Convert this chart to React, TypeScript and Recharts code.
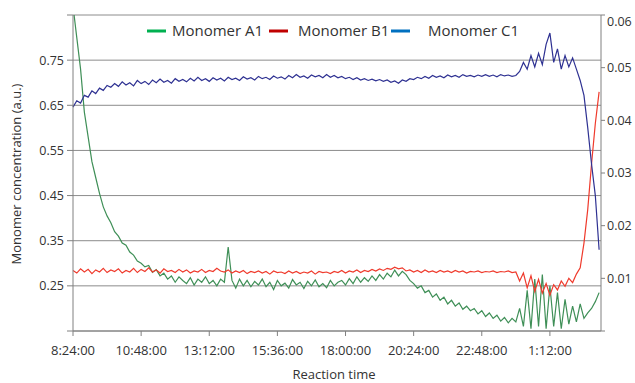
import React from "react";
import { LineChart, Line, XAxis, YAxis, CartesianGrid } from "recharts";

// minutes after 8:24:00
const times = [
  0, 8, 16, 24, 32, 40, 48, 56, 64, 72,
  80, 88, 96, 104, 112, 120, 128, 136, 144, 152,
  160, 168, 176, 184, 192, 200, 208, 216, 224, 232,
  240, 248, 256, 264, 272, 280, 288, 296, 304, 312,
  320, 328, 336, 344, 352, 360, 368, 376, 384, 392,
  400, 408, 416, 424, 432, 440, 448, 456, 464, 472,
  480, 488, 496, 504, 512, 520, 528, 536, 544, 552,
  560, 568, 576, 584, 592, 600, 608, 616, 624, 632,
  640, 648, 656, 664, 672, 680, 688, 696, 704, 712,
  720, 728, 736, 744, 752, 760, 768, 776, 784, 792,
  800, 808, 816, 824, 832, 840, 848, 856, 864, 872,
  880, 888, 896, 904, 912, 920, 928, 936, 944, 952,
  960, 968, 976, 984, 992, 1000, 1008, 1016, 1024, 1032,
  1040, 1048, 1056, 1064, 1072, 1080, 1088, 1096, 1104, 1112,
];

// left axis
const monomerA1 = [
  0.87, 0.8, 0.73, 0.635, 0.58, 0.525, 0.49, 0.455, 0.425, 0.405,
  0.39, 0.37, 0.36, 0.345, 0.34, 0.325, 0.318, 0.305, 0.3, 0.292,
  0.295, 0.28, 0.286, 0.272, 0.278, 0.265, 0.272, 0.258, 0.27, 0.262,
  0.255, 0.268, 0.252, 0.265, 0.258, 0.27, 0.255, 0.262, 0.25, 0.265,
  0.258, 0.336, 0.262, 0.245, 0.265, 0.25, 0.262, 0.248, 0.26, 0.252,
  0.265, 0.248, 0.258, 0.242, 0.262, 0.25, 0.256, 0.245, 0.264, 0.252,
  0.258, 0.244, 0.26, 0.25, 0.263, 0.248, 0.255, 0.246, 0.262, 0.25,
  0.258, 0.262, 0.252, 0.266, 0.255, 0.27, 0.258, 0.268, 0.26, 0.272,
  0.262, 0.275, 0.265, 0.278, 0.27, 0.285, 0.272, 0.282, 0.275, 0.262,
  0.255, 0.245, 0.25, 0.235, 0.24, 0.225, 0.232, 0.218, 0.225, 0.21,
  0.218, 0.205, 0.212, 0.198, 0.205, 0.195, 0.2, 0.188, 0.195, 0.182,
  0.19, 0.178, 0.185, 0.172, 0.18, 0.168, 0.178, 0.17, 0.2, 0.16,
  0.24, 0.155, 0.265, 0.16, 0.275, 0.155, 0.25, 0.16, 0.235, 0.155,
  0.22, 0.165, 0.205, 0.17, 0.21, 0.178, 0.19, 0.2, 0.215, 0.235,
];

// right axis
const monomerB1 = [
  0.0115, 0.011, 0.0118, 0.0112, 0.0117, 0.0109, 0.0116, 0.0112, 0.0119, 0.0111,
  0.0116, 0.0113, 0.0118, 0.011, 0.0115, 0.0112, 0.0119, 0.0111, 0.0117, 0.0113,
  0.012, 0.0112, 0.0116, 0.011, 0.0118, 0.0113, 0.0115, 0.0111, 0.0117, 0.0112,
  0.0116, 0.011, 0.0114, 0.0112, 0.0117, 0.0111, 0.0115, 0.0113, 0.0119, 0.0114,
  0.0112, 0.0116, 0.011, 0.0114, 0.0111, 0.0115, 0.0109, 0.0113, 0.0111, 0.0114,
  0.011, 0.0113, 0.0108, 0.0114, 0.0111, 0.0112, 0.0109, 0.0114, 0.011, 0.0113,
  0.0109, 0.0112, 0.011, 0.0114, 0.0108, 0.0113, 0.0111, 0.0112, 0.0109, 0.0113,
  0.0111, 0.0115, 0.011, 0.0114, 0.0112, 0.0116, 0.0111, 0.0115, 0.0113, 0.0117,
  0.0114, 0.0118, 0.0115, 0.0119, 0.0117, 0.0121, 0.0118, 0.012, 0.0114, 0.0116,
  0.0112, 0.0115, 0.0111, 0.0116, 0.0112, 0.0114, 0.0111, 0.0115, 0.0112, 0.0114,
  0.0111, 0.0115, 0.0112, 0.0114, 0.011, 0.0113, 0.0112, 0.0114, 0.0111, 0.0113,
  0.0112, 0.0114, 0.0111, 0.0113, 0.0112, 0.0114, 0.0111, 0.0112, 0.0095, 0.011,
  0.0082, 0.0105, 0.0075, 0.0098, 0.0072, 0.009, 0.0068, 0.0088, 0.0078, 0.0095,
  0.0085, 0.01, 0.0092, 0.0108, 0.012, 0.0167, 0.0231, 0.0317, 0.0394, 0.0454,
];

// left axis
const monomerC1 = [
  0.646, 0.66, 0.655, 0.672, 0.668, 0.682, 0.676, 0.688, 0.683, 0.694,
  0.69, 0.698, 0.692, 0.702, 0.695, 0.7, 0.693, 0.705, 0.698, 0.703,
  0.696, 0.706, 0.7, 0.708, 0.701, 0.705, 0.699, 0.709, 0.703, 0.707,
  0.702, 0.71, 0.704, 0.712, 0.705, 0.709, 0.703, 0.711, 0.706, 0.71,
  0.704, 0.712, 0.707, 0.71, 0.705, 0.713, 0.708, 0.711, 0.706, 0.714,
  0.709, 0.712, 0.707, 0.715, 0.71, 0.713, 0.708, 0.716, 0.711, 0.718,
  0.712, 0.715, 0.71, 0.717, 0.713, 0.716, 0.711, 0.718, 0.712, 0.716,
  0.711, 0.714, 0.709, 0.712, 0.707, 0.711, 0.706, 0.709, 0.705, 0.708,
  0.704, 0.707, 0.703, 0.706, 0.701, 0.704, 0.699, 0.706, 0.703, 0.709,
  0.707, 0.712, 0.709, 0.714, 0.71, 0.716, 0.712, 0.715, 0.711, 0.717,
  0.713, 0.716, 0.712, 0.718, 0.714, 0.716, 0.713, 0.717, 0.714, 0.718,
  0.714, 0.717, 0.713, 0.718, 0.715, 0.717, 0.714, 0.716, 0.725, 0.745,
  0.73, 0.76, 0.735, 0.765, 0.74, 0.785, 0.81, 0.745, 0.775, 0.73,
  0.76, 0.735, 0.755, 0.73, 0.705, 0.672, 0.6, 0.52, 0.45, 0.33,
];

const xTicks = [0, 144, 288, 432, 576, 720, 864, 1008];
const leftTicks = [0.15, 0.25, 0.35, 0.45, 0.55, 0.65, 0.75, 0.85];
const rightTicks = [0, 0.01, 0.02, 0.03, 0.04, 0.05, 0.06];

const legendItems = [
  { name: "Monomer A1", color: "#00b050", lineX: 147, textX: 172 },
  { name: "Monomer B1", color: "#c00000", lineX: 269, textX: 298 },
  { name: "Monomer C1", color: "#0070c0", lineX: 391, textX: 428 },
];

const data = times.map((t, i) => ({
  t,
  a1: monomerA1[i],
  b1: monomerB1[i],
  c1: monomerC1[i],
}));

const FONT = "'Open Sans', sans-serif";
const TEXT = "#333";

function fmtTime(m: number) {
  const total = 8 * 60 + 24 + m;
  const h = Math.floor(total / 60) % 24;
  const mm = total % 60;
  return `${h}:${String(mm).padStart(2, "0")}:00`;
}

function RightTick(props: any) {
  const { x, y, payload } = props;
  if (payload.value === 0) return null;
  const yy = payload.value >= 0.06 ? y + 7 : y;
  return (
    <text x={x} y={yy} dy="0.355em" textAnchor="start" fontSize={12.5} fill={TEXT} fontFamily={FONT}>
      {payload.value.toFixed(2)}
    </text>
  );
}

export default function App() {
  return (
    <div style={{ position: "absolute", left: 0, top: 0, width: 635, height: 383, background: "#fff", fontFamily: FONT }}>
      <LineChart width={635} height={383} data={data} margin={{ top: 15, right: 0, bottom: 0, left: 0 }}>
        <CartesianGrid yAxisId="left" vertical={false} stroke="#8c8c8c" strokeWidth={1} />
        <XAxis
          dataKey="t"
          type="number"
          domain={[0, 1116]}
          ticks={xTicks}
          tickFormatter={fmtTime}
          height={52}
          tickSize={5}
          tickMargin={10}
          stroke="#808080"
          tick={{ fontSize: 13, fill: TEXT, fontFamily: FONT }}
        />
        <YAxis
          yAxisId="left"
          width={73}
          domain={[0.15, 0.85]}
          ticks={leftTicks}
          allowDataOverflow
          tickSize={6}
          tickMargin={3}
          stroke="#808080"
          tickFormatter={(v: number) => (v < 0.2 || v > 0.8 ? "" : v.toFixed(2))}
          tick={{ fontSize: 12.5, fill: TEXT, fontFamily: FONT }}
        />
        <YAxis
          yAxisId="right"
          orientation="right"
          width={34}
          domain={[0, 0.06]}
          ticks={rightTicks}
          allowDataOverflow
          tickSize={4}
          tickMargin={2}
          stroke="#808080"
          tick={<RightTick />}
        />
        <Line yAxisId="left" dataKey="a1" stroke="#3f8f57" strokeWidth={1.2} dot={false} isAnimationActive={false} />
        <Line yAxisId="right" dataKey="b1" stroke="#ef3a2c" strokeWidth={1.2} dot={false} isAnimationActive={false} />
        <Line yAxisId="left" dataKey="c1" stroke="#2e3192" strokeWidth={1.2} dot={false} isAnimationActive={false} />
      </LineChart>
      <svg width={635} height={383} style={{ position: "absolute", left: 0, top: 0, pointerEvents: "none" }}>
        {legendItems.map((it) => (
          <g key={it.name}>
            <rect x={it.lineX} y={29.5} width={19} height={3} fill={it.color} />
            <text x={it.textX} y={35.5} fontSize={15} fill={TEXT} fontFamily={FONT}>
              {it.name}
            </text>
          </g>
        ))}
        <text x={21} y={174} fontSize={13} fill={TEXT} fontFamily={FONT} textAnchor="middle" transform="rotate(-90 21 174)">
          Monomer concentration (a.u.)
        </text>
        <text x={334} y={379} fontSize={13} fill={TEXT} fontFamily={FONT} textAnchor="middle">
          Reaction time
        </text>
      </svg>
    </div>
  );
}
